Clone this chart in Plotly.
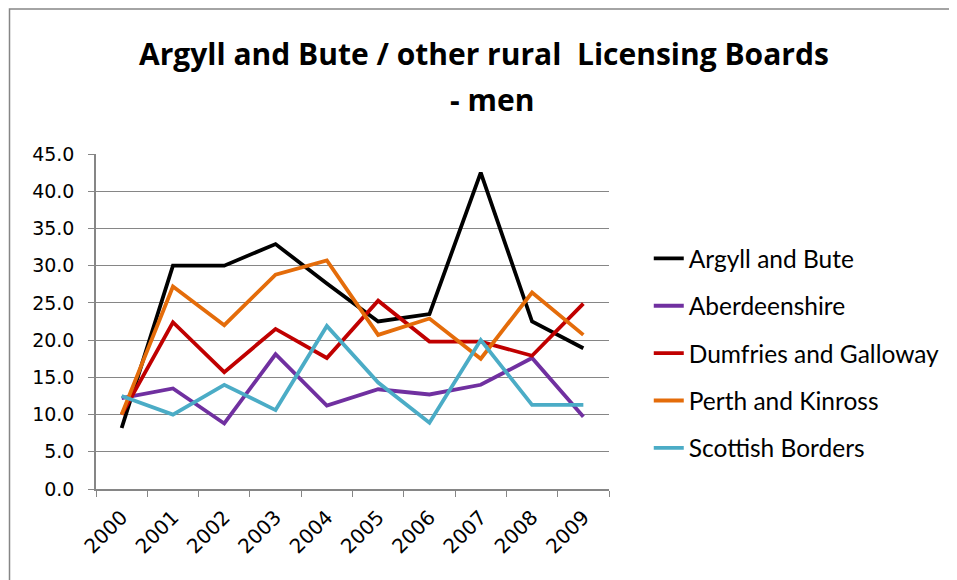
import plotly.graph_objects as go

years = ["2000", "2001", "2002", "2003", "2004", "2005", "2006", "2007", "2008", "2009"]
argyll = [8.2, 30.0, 30.0, 32.9, 27.6, 22.5, 23.5, 42.5, 22.5, 18.9]
aberdeen = [12.2, 13.5, 8.8, 18.1, 11.2, 13.4, 12.7, 14.0, 17.6, 9.7]
dumfries = [10.0, 22.4, 15.7, 21.5, 17.6, 25.3, 19.8, 19.8, 17.9, 24.9]
perth = [10.0, 27.2, 22.0, 28.8, 30.7, 20.7, 22.9, 17.5, 26.4, 20.7]
borders = [12.5, 10.0, 14.0, 10.6, 21.9, 14.3, 8.9, 20.0, 11.3, 11.3]

series = [
    ("Argyll and Bute", argyll, "#000000"),
    ("Aberdeenshire", aberdeen, "#7030A0"),
    ("Dumfries and Galloway", dumfries, "#C00000"),
    ("Perth and Kinross", perth, "#E46C0A"),
    ("Scottish Borders", borders, "#4BACC6"),
]
yticks = [0, 5, 10, 15, 20, 25, 30, 35, 40, 45]

fig = go.Figure()
for i, (name, vals, col) in enumerate(series):
    fig.add_trace(go.Scatter(x=years, y=vals, name=name, mode="lines",
                             line=dict(color=col, width=3.8),
                             legendgroup=f"g{i}"))

# page body has an 8px margin; figure sized so page is 957x580
OFF = 8
W, H = 949, 572
L, R, T, B = 88, 345, 146, 91
pw, ph = W - L - R, H - T - B


def px(sx):
    return (sx - OFF - L) / pw


def py(sy):
    return (H - B - (sy - OFF)) / ph


ytick_font = dict(size=19, family="DejaVu Sans", color="#000000")
xtick_font = dict(size=20, family="DejaVu Sans", color="#000000")

fig.update_layout(
    width=W, height=H,
    margin=dict(l=L, r=R, t=T, b=B),
    paper_bgcolor="white", plot_bgcolor="white",
    font=dict(family="Lato", color="#000000"),
    showlegend=True,
    legend=dict(x=px(652), y=py(236), xanchor="left", yanchor="top",
                font=dict(size=24.5, family="Lato", color="#000000"), tracegroupgap=12.5,
                bgcolor="rgba(0,0,0,0)"),
    xaxis=dict(type="category", tickson="boundaries", ticks="outside", ticklen=6,
               tickcolor="#868686", showline=True, linecolor="#868686", linewidth=1.5,
               showgrid=False, tickangle=-45, tickfont=xtick_font,
               ticklabelstandoff=7, range=[-0.5, 9.5]),
    yaxis=dict(range=[0, 45], tickvals=yticks, tickformat=".1f", ticks="outside",
               ticklen=6, tickcolor="#868686", showline=True, linecolor="#868686",
               linewidth=1.5, showgrid=True, gridcolor="#868686", gridwidth=1,
               tickfont=ytick_font, zeroline=False, ticklabelstandoff=10),
    shapes=[dict(type="rect", xref="paper", yref="paper",
                 x0=px(9), x1=px(1000), y0=py(700), y1=py(9),
                 line=dict(color="#868686", width=1.5), fillcolor="rgba(0,0,0,0)")],
    annotations=[
        dict(text="<b>Argyll and Bute / other rural  Licensing Boards</b>", xref="paper", yref="paper",
             x=px(486), y=py(53), xanchor="center", yanchor="middle", showarrow=False,
             font=dict(size=30, family="Open Sans", color="#000000")),
        dict(text="<b>- men</b>", xref="paper", yref="paper",
             x=px(494), y=py(100), xanchor="center", yanchor="middle", showarrow=False,
             font=dict(size=30, family="Open Sans", color="#000000")),
    ],
)

fig.write_html("out.html")
